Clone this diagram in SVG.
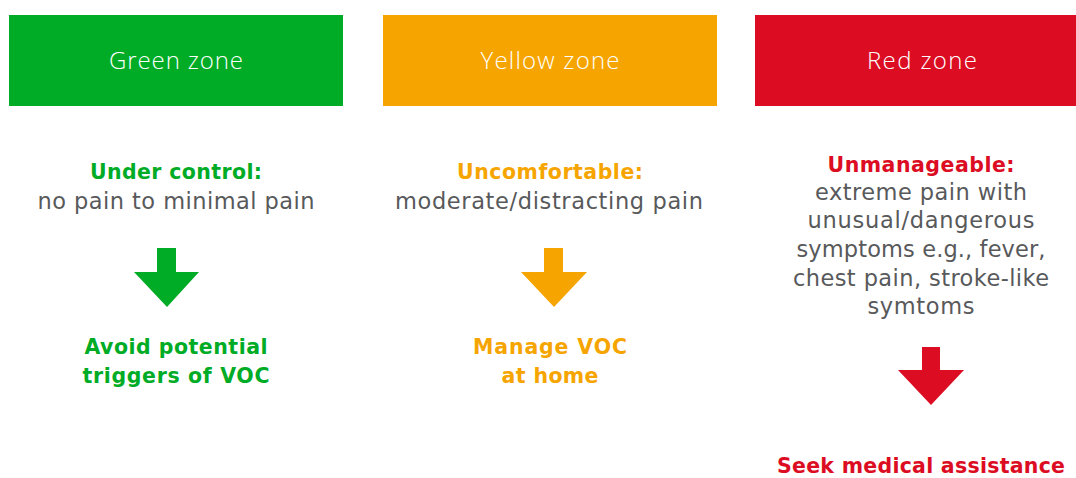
<svg xmlns="http://www.w3.org/2000/svg" width="1076" height="478" viewBox="0 0 1076 478">
<style>
text{font-family:"DejaVu Sans","Open Sans","Liberation Sans",sans-serif;text-anchor:middle}
.hd{fill:#ffffff;font-family:"Open Sans","DejaVu Sans",sans-serif;font-size:24px;font-weight:300}
.tt{font-size:20.5px;font-weight:700}
.bd{fill:#58595b;font-size:22.5px;font-weight:400}
.g{fill:#00ac26}.y{fill:#f6a500}.r{fill:#dc0d23}
</style>
<rect width="1076" height="478" fill="#ffffff"/>
<g id="green-zone">
<rect class="g" x="9" y="15" width="334" height="91"/>
<text class="hd" x="176" y="69" textLength="134">Green zone</text>
<text class="tt g" x="176" y="179" textLength="172">Under control:</text>
<text class="bd" x="176" y="209" textLength="277">no pain to minimal pain</text>
</g>
<g id="green-action">
<text class="tt g" x="176" y="354" textLength="183">Avoid potential</text>
<text class="tt g" x="176" y="383" textLength="187">triggers of VOC</text>
</g>
<g id="yellow-zone">
<rect class="y" x="383" y="15" width="334" height="91"/>
<text class="hd" x="550" y="69" textLength="139">Yellow zone</text>
<text class="tt y" x="550" y="179" textLength="186">Uncomfortable:</text>
<text class="bd" x="549" y="209" textLength="308">moderate/distracting pain</text>
</g>
<g id="yellow-action">
<text class="tt y" x="550" y="354" textLength="154">Manage VOC</text>
<text class="tt y" x="550" y="383" textLength="97">at home</text>
</g>
<g id="red-zone">
<rect class="r" x="755" y="15" width="321" height="91"/>
<text class="hd" x="922" y="69" textLength="110">Red zone</text>
<text class="tt r" x="921" y="172" textLength="187">Unmanageable:</text>
<text class="bd" x="921" y="200" textLength="212">extreme pain with</text>
<text class="bd" x="921" y="228" textLength="227">unusual/dangerous</text>
<text class="bd" x="921" y="257" textLength="249">symptoms e.g., fever,</text>
<text class="bd" x="921" y="286" textLength="256">chest pain, stroke-like</text>
<text class="bd" x="921" y="314" textLength="107">symtoms</text>
</g>
<g id="red-action">
<text class="tt r" x="921" y="473" textLength="288">Seek medical assistance</text>
</g>
<g id="connectors">
<polygon class="g" points="157,248 176,248 176,272 199,272 167,307 134,272 157,272"/>
<polygon class="y" points="544,248 563,248 563,272 587,272 554,307 521,272 544,272"/>
<polygon class="r" points="922,347 940,347 940,370 964,370 931,405 898,370 922,370"/>
</g>
</svg>
